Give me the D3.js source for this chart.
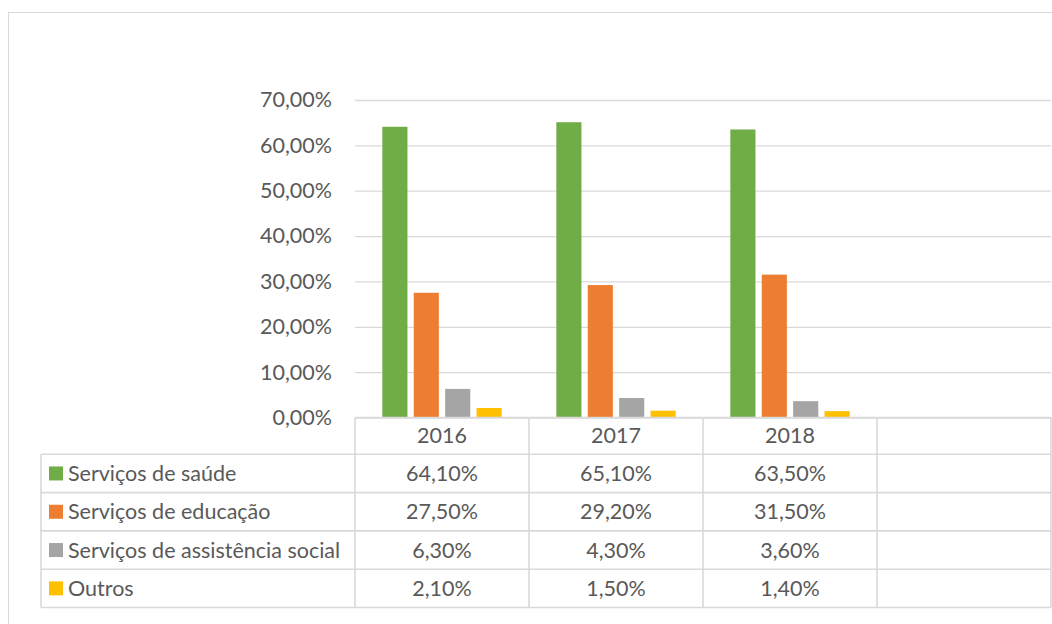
<!DOCTYPE html>
<html>
<head>
<meta charset="utf-8">
<script src="https://cdn.jsdelivr.net/npm/d3@7"></script>
<style>
  body { margin: 0; background: #fff; }
  text { font-family: Lato, "Open Sans", sans-serif; fill: #595959; }
</style>
</head>
<body>
<svg id="chart" width="1052" height="624"></svg>
<script>
// data
const categories = ["2016", "2017", "2018", ""];
const seriesNames = ["Serviços de saúde", "Serviços de educação", "Serviços de assistência social", "Outros"];
const seriesColors = ["#70ad47", "#ed7d31", "#a5a5a5", "#ffc000"];
const saude = [0.641, 0.651, 0.635];
const educacao = [0.275, 0.292, 0.315];
const assistencia = [0.063, 0.043, 0.036];
const outros = [0.021, 0.015, 0.014];
const yTicks = [0, 0.1, 0.2, 0.3, 0.4, 0.5, 0.6, 0.7];

const seriesValues = [saude, educacao, assistencia, outros];

const ptBR = d3.formatLocale({decimal: ",", thousands: ".", grouping: [3], currency: ["R$", ""]});
const pct = ptBR.format(".2%");

const svg = d3.select("#chart");
const gridColor = "#d9d9d9";
const fontSize = 21.5;

// outer chart frame (runs off the right / bottom)
svg.append("rect")
  .attr("x", 8.5).attr("y", 12.5)
  .attr("width", 1200).attr("height", 800)
  .attr("fill", "none").attr("stroke", gridColor);

const plotLeft = 355, plotRight = 1051;
const plotTop = 100, plotBottom = 417.5;

var x0 = d3.scaleBand().domain(categories).range([plotLeft, plotRight]);
var x1 = d3.scaleBand().domain(d3.range(seriesNames.length))
  .range([0, x0.bandwidth()]).paddingInner(0.2).paddingOuter(0.87);
var y = d3.scaleLinear().domain([0, 0.7]).range([plotBottom, plotTop]);

// gridlines + y labels
var yAxis = d3.axisLeft(y).tickValues(yTicks).tickFormat(pct)
  .tickSize(-(plotRight - plotLeft)).tickPadding(23);

var yg = svg.append("g")
  .attr("transform", "translate(" + plotLeft + ",0)")
  .call(yAxis);
yg.select(".domain").remove();
yg.selectAll(".tick line").attr("stroke", gridColor).attr("stroke-width", 1.3);
yg.selectAll(".tick text").attr("font-size", fontSize).style("fill", "#595959");

// bars
const barData = [];
seriesValues.forEach(function(vals, si){
  vals.forEach(function(v, ci){
    barData.push({cat: categories[ci], s: si, v: v});
  });
});

svg.append("g").selectAll("rect")
  .data(barData).enter()
  .append("rect")
  .attr("x", d => x0(d.cat) + x1(d.s))
  .attr("y", d => y(d.v))
  .attr("width", x1.bandwidth())
  .attr("height", d => plotBottom - y(d.v))
  .attr("fill", d => seriesColors[d.s]);

// data table
const rowH = 38.3;
const headerBottom = 454.3;
const tableLeft = 41;
const tableBottom = headerBottom + rowH * seriesNames.length;
var table = svg.append("g");

// horizontal lines
table.append("line")
  .attr("x1", plotLeft).attr("x2", plotRight)
  .attr("y1", plotBottom).attr("y2", plotBottom);
d3.range(seriesNames.length + 1).forEach(function(i){
  table.append("line")
    .attr("x1", tableLeft).attr("x2", plotRight)
    .attr("y1", headerBottom + i * rowH).attr("y2", headerBottom + i * rowH);
});
// vertical lines
table.append("line")
  .attr("x1", tableLeft).attr("x2", tableLeft)
  .attr("y1", headerBottom).attr("y2", tableBottom);
categories.forEach(function(c){
  table.append("line")
    .attr("x1", x0(c)).attr("x2", x0(c))
    .attr("y1", plotBottom).attr("y2", tableBottom);
});
table.append("line")
  .attr("x1", plotRight).attr("x2", plotRight)
  .attr("y1", plotBottom).attr("y2", tableBottom);
table.selectAll("line").attr("stroke", gridColor).attr("stroke-width", 1.6);

// header
table.selectAll(".cat").data(categories).enter()
  .append("text")
  .attr("x", d => x0(d) + x0.bandwidth() / 2)
  .attr("y", (plotBottom + headerBottom) / 2)
  .attr("dy", "0.35em")
  .attr("text-anchor", "middle")
  .attr("font-size", fontSize)
  .text(d => d);

// rows
seriesNames.forEach(function(name, si){
  var cy = headerBottom + si * rowH + rowH / 2;
  table.append("rect")
    .attr("x", 49).attr("y", cy - 7)
    .attr("width", 14).attr("height", 14)
    .attr("fill", seriesColors[si]);
  table.append("text")
    .attr("x", 68).attr("y", cy).attr("dy", "0.35em")
    .attr("font-size", fontSize)
    .text(name);
  seriesValues[si].forEach(function(v, ci){
    table.append("text")
      .attr("x", x0(categories[ci]) + x0.bandwidth() / 2)
      .attr("y", cy).attr("dy", "0.35em")
      .attr("text-anchor", "middle")
      .attr("font-size", fontSize)
      .text(pct(v));
  });
});
</script>
</body>
</html>
